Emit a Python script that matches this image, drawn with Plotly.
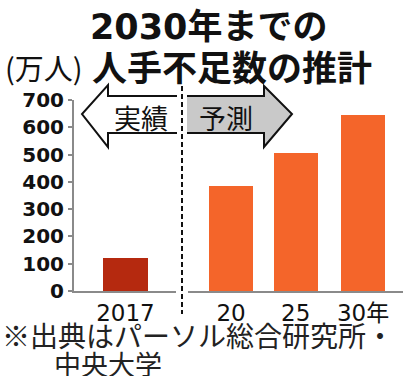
import plotly.graph_objects as go

# ---- data ----
categories = ["2017", "20", "25", "30年"]
values = [121, 384, 505, 644]
bar_colors = ["#b5290f", "#f4652a", "#f4652a", "#f4652a"]
y_ticks = [0, 100, 200, 300, 400, 500, 600, 700]

# ---- layout helpers ----
positions = [0, 1.6, 2.58, 3.6]
W, H = 403, 376
ML, MR, MT, MB = 74, 0, 100, 85
PW, PH = W - ML - MR, H - MT - MB


def PX(p):
    return (p - ML) / PW


def PY(p):
    return (H - MB - p) / PH


fig = go.Figure()
fig.add_trace(go.Bar(
    x=positions, y=values, width=0.67,
    marker=dict(color=bar_colors, line=dict(width=0)),
    hoverinfo="skip",
))

CJK = "Noto Sans CJK JP"
NUMB = "DejaVu Sans, Noto Sans CJK JP"

fig.update_layout(
    width=W, height=H,
    margin=dict(l=ML, r=MR, t=MT, b=MB, pad=0),
    paper_bgcolor="white", plot_bgcolor="white",
    showlegend=False,
    bargap=0,
    xaxis=dict(
        range=[-0.78, -0.78 + PW / 66], tickmode="array",
        tickvals=positions, ticktext=categories,
        showgrid=False, zeroline=False, showline=True,
        linecolor="#8a8a8a", linewidth=2, ticks="",
        tickfont=dict(family=NUMB, size=23, color="#111"),
        fixedrange=True,
    ),
    yaxis=dict(
        range=[0, 700], tickmode="array", tickvals=y_ticks,
        showgrid=False, zeroline=False, showline=True,
        linecolor="#8a8a8a", linewidth=2, ticks="outside",
        ticklen=4, tickcolor="#8a8a8a", tickwidth=2,
        tickfont=dict(family="DejaVu Sans", size=20, color="#111", weight="bold"),
        fixedrange=True,
    ),
)

shapes = []
# left arrow (実績) - outline
shapes.append(dict(
    type="path", xref="paper", yref="paper",
    path=(f"M {PX(177)},{PY(96)} L {PX(108)},{PY(96)} L {PX(108)},{PY(85)} "
          f"L {PX(82)},{PY(114)} L {PX(108)},{PY(147)} L {PX(108)},{PY(133)} "
          f"L {PX(177)},{PY(133)}"),
    line=dict(color="#111", width=2), fillcolor="white", layer="above",
))
# right arrow (予測) - gray filled
shapes.append(dict(
    type="path", xref="paper", yref="paper",
    path=(f"M {PX(187)},{PY(96)} L {PX(264)},{PY(96)} L {PX(264)},{PY(86)} "
          f"L {PX(292)},{PY(114)} L {PX(264)},{PY(147)} L {PX(264)},{PY(133)} "
          f"L {PX(187)},{PY(133)}"),
    line=dict(color="#111", width=2), fillcolor="#c9c9c9", layer="above",
))
# gap in x axis line around the divider
shapes.append(dict(
    type="rect", xref="paper", yref="paper",
    x0=PX(176), x1=PX(188), y0=PY(294), y1=PY(287),
    line=dict(width=0), fillcolor="white", layer="above",
))
# dashed divider
shapes.append(dict(
    type="line", xref="paper", yref="paper",
    x0=PX(182), x1=PX(182), y0=PY(86), y1=PY(314),
    line=dict(color="#111", width=2, dash="5px,3px"), layer="above",
))
fig.update_layout(shapes=shapes)

ann = []
ann.append(dict(text="<b>2030年までの</b>", x=PX(88), y=PY(27), xanchor="left",
                yanchor="middle", font=dict(family=NUMB, size=35, color="#111")))
ann.append(dict(text="<b>人手不足数の推計</b>", x=PX(90), y=PY(66), xanchor="left",
                yanchor="middle", font=dict(family=CJK, size=35, color="#111")))
ann.append(dict(text="(万人)", x=PX(44), y=PY(67), xanchor="center",
                yanchor="middle", font=dict(family=CJK, size=29, color="#111")))
ann.append(dict(text="実績", x=PX(141), y=PY(117), xanchor="center",
                yanchor="middle", font=dict(family=CJK, size=27, color="#111")))
ann.append(dict(text="予測", x=PX(226), y=PY(117), xanchor="center",
                yanchor="middle", font=dict(family=CJK, size=27, color="#111")))
ann.append(dict(text="※出典はパーソル総合研究所・", x=PX(0), y=PY(335), xanchor="left",
                yanchor="middle", font=dict(family=CJK, size=28, color="#222")))
ann.append(dict(text="中央大学", x=PX(52), y=PY(363), xanchor="left",
                yanchor="middle", font=dict(family=CJK, size=27, color="#222")))
for a in ann:
    a.update(xref="paper", yref="paper", showarrow=False)
fig.update_layout(annotations=ann)

fig.write_html("out.html", config={"displayModeBar": False})
